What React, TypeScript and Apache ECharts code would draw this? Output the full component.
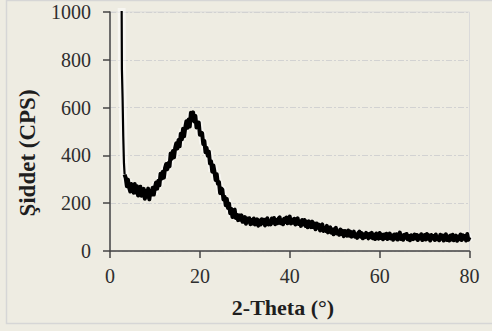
import React, { useEffect, useRef } from "react";
import * as echarts from "echarts";

// X-ray diffraction scan: 2-Theta (degrees) vs intensity (CPS)
const spikeTheta = [2.5, 2.6, 2.65, 2.8, 2.95, 3.1, 3.25];
const spikeCps = [1150, 1000, 760, 640, 480, 370, 320];

const scanStart = 3.5;
const scanStep = 0.25;
const intensity = [
  306, 271, 298, 266, 249, 280, 268, 244, 280, 245,
  271, 232, 257, 269, 231, 240, 260, 219, 250, 227,
  261, 216, 251, 236, 265, 236, 266, 287, 261, 294,
  275, 323, 303, 332, 307, 347, 364, 342, 368, 354,
  408, 386, 418, 392, 431, 451, 429, 464, 438, 491,
  467, 511, 480, 517, 543, 516, 550, 521, 578, 548,
  580, 542, 565, 517, 538, 538, 486, 495, 493, 447,
  461, 413, 431, 399, 416, 366, 375, 332, 358, 331,
  297, 321, 281, 289, 242, 262, 257, 215, 227, 191,
  218, 180, 198, 158, 176, 142, 170, 173, 138, 151,
  129, 149, 131, 149, 122, 136, 142, 114, 136, 123,
  137, 112, 130, 115, 136, 111, 124, 132, 106, 127,
  111, 133, 116, 131, 107, 129, 137, 111, 125, 111,
  136, 118, 138, 112, 130, 116, 136, 141, 116, 129,
  112, 135, 122, 140, 116, 133, 144, 115, 131, 118,
  135, 111, 131, 137, 113, 124, 105, 130, 112, 130,
  105, 123, 99, 124, 115, 100, 123, 100, 115, 91,
  115, 97, 110, 86, 105, 111, 84, 97, 84, 105,
  78, 95, 99, 77, 90, 70, 92, 97, 73, 82,
  68, 90, 71, 84, 62, 84, 77, 64, 86, 64,
  81, 60, 75, 81, 60, 70, 55, 75, 81, 60,
  75, 53, 69, 58, 76, 66, 53, 72, 58, 76,
  53, 68, 50, 73, 64, 52, 75, 55, 68, 49,
  69, 55, 72, 50, 62, 73, 52, 65, 47, 69,
  53, 70, 48, 63, 77, 50, 65, 47, 68, 56,
  71, 49, 63, 45, 66, 60, 50, 69, 53, 67,
  46, 64, 53, 70, 46, 60, 67, 48, 71, 51,
  65, 44, 67, 53, 62, 46, 69, 49, 58, 45,
  68, 51, 65, 44, 59, 70, 46, 61, 44, 65,
  48, 68, 45, 58, 64, 43, 60, 49, 69, 46,
  66, 51, 63, 44, 71, 47, 58,
];

const xTicks = { min: 0, max: 80, interval: 20 };
const yTicks = { min: 0, max: 1000, interval: 200 };
const xTitle = "2-Theta (°)";
const yTitle = "Şiddet (CPS)";

const SERIF = "'Liberation Serif', 'Times New Roman', serif";

export default function App() {
  const ref = useRef<HTMLDivElement>(null);

  useEffect(() => {
    if (!ref.current) return;
    const chart = echarts.init(ref.current, null, { renderer: "svg" });
    const spikePts = spikeTheta.map((t, i) => [t, spikeCps[i]] as [number, number]);
    const scanPts = intensity.map((v, i) => [scanStart + i * scanStep, v] as [number, number]);
    const thinPart = spikePts;
    const thickPart = spikePts.slice(6).concat(scanPts);
    const all = spikePts.concat(scanPts);

    const lineBase = { type: "line", showSymbol: false, symbol: "none", clip: true, silent: true };

    chart.setOption({
      animation: false,
      backgroundColor: "#eeece2",
      grid: {
        left: 110,
        top: 12,
        right: 22.5,
        bottom: 80,
        show: true,
        borderColor: "#dadada",
        borderWidth: 1,
        backgroundColor: "transparent",
      },
      xAxis: {
        type: "value",
        ...xTicks,
        axisLine: { show: true, lineStyle: { color: "#454545", width: 1.5 } },
        axisTick: { show: true, length: 7, lineStyle: { color: "#454545", width: 1.5 } },
        axisLabel: { fontFamily: SERIF, fontSize: 20, color: "#2e2e2e", margin: 15 },
        splitLine: { show: false },
      },
      yAxis: {
        type: "value",
        ...yTicks,
        axisLine: { show: true, lineStyle: { color: "#454545", width: 1.5 } },
        axisTick: { show: true, length: 7, lineStyle: { color: "#454545", width: 1.5 } },
        axisLabel: {
          fontFamily: SERIF,
          fontSize: 20,
          color: "#2e2e2e",
          margin: 19,
          formatter: (v: number) => String(v),
        },
        splitLine: {
          show: true,
          lineStyle: { color: "#d2d2d2", width: 1, type: [6, 2, 2, 2] },
        },
      },
      graphic: [
        {
          type: "rect",
          silent: true,
          shape: { x: 6.5, y: 0.5, width: 520, height: 323 },
          style: { fill: "none", stroke: "#d6d6d6", lineWidth: 1.5 },
        },
        {
          type: "text",
          x: 27,
          y: 153,
          rotation: Math.PI / 2,
          style: {
            text: yTitle,
            fontFamily: SERIF,
            fontWeight: "bold",
            fontSize: 23,
            fill: "#1e1e1e",
            align: "center",
            verticalAlign: "middle",
          },
        },
        {
          type: "text",
          x: 283,
          y: 307,
          style: {
            text: xTitle,
            fontFamily: SERIF,
            fontWeight: "bold",
            fontSize: 22,
            fill: "#1e1e1e",
            align: "center",
            verticalAlign: "middle",
          },
        },
      ],
      series: [
        {
          ...lineBase,
          data: all,
          z: 1,
          lineStyle: { color: "#ffffff", width: 8, opacity: 0.5 },
        },
        {
          ...lineBase,
          data: thinPart,
          z: 2,
          lineStyle: { color: "#000", width: 2.2 },
        },
        {
          ...lineBase,
          data: thickPart,
          z: 2,
          lineStyle: { color: "#000", width: 4, join: "round" },
        },
      ],
    });
    return () => chart.dispose();
  }, []);

  return (
    <div
      ref={ref}
      style={{ position: "fixed", left: 0, top: 0, width: 492, height: 331 }}
    />
  );
}
